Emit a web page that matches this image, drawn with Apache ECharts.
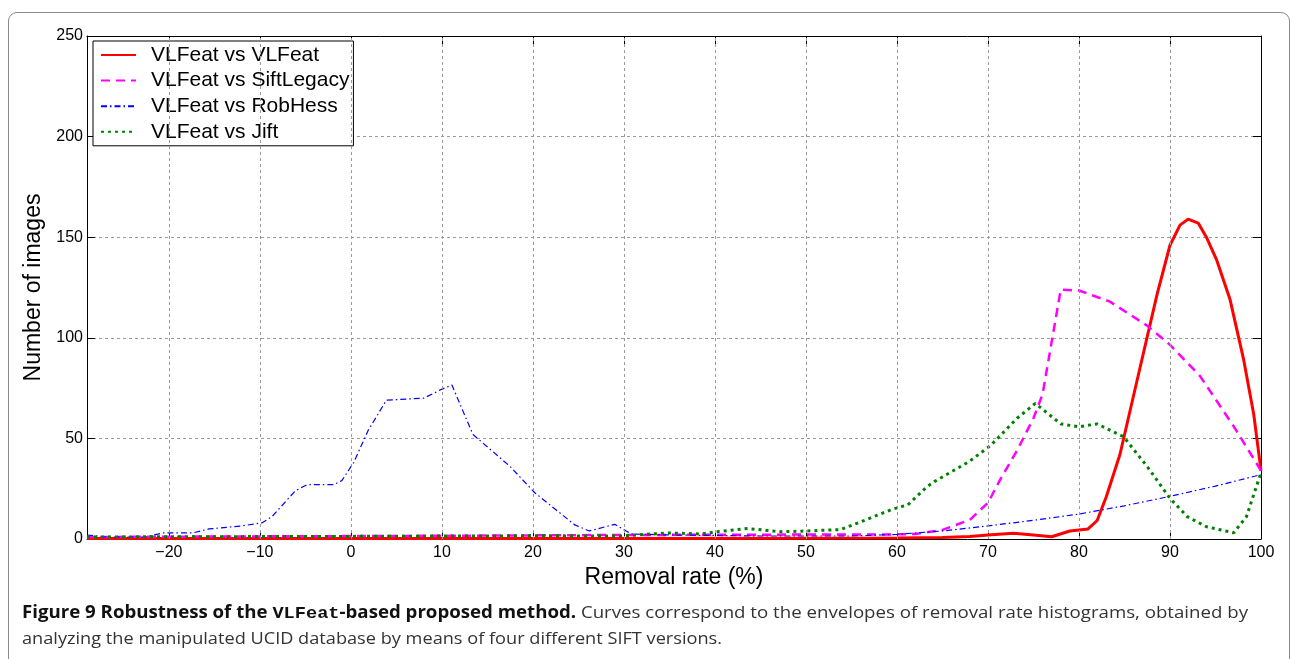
<!DOCTYPE html>
<html>
<head>
<meta charset="utf-8">
<script src="https://cdn.jsdelivr.net/npm/echarts@6/dist/echarts.min.js"></script>
<style>
html,body{margin:0;padding:0;background:#fff;}
#wrap{position:relative;width:1292px;height:659px;overflow:hidden;}
#frame{position:absolute;left:8px;top:12px;width:1282px;height:700px;border:1.5px solid #8a8a8a;border-radius:9px;box-sizing:border-box;}
#chart{position:absolute;left:0;top:0;width:1292px;height:659px;}
.cap{position:absolute;left:22px;white-space:nowrap;font-family:"Open Sans","Noto Sans",sans-serif;font-size:17px;color:#333;transform-origin:0 50%;}
.cap b{color:#111;font-weight:700;}
.cap code{font-family:"Liberation Mono","DejaVu Sans Mono",monospace;font-weight:700;color:#111;}
</style>
</head>
<body>
<div id="wrap">
<div id="frame"></div>
<div id="chart"></div>
<div class="cap" id="cap1" data-w="1226" style="top:600px;"><b>Figure 9 Robustness of the <code>VLFeat</code>-based proposed method.</b> Curves correspond to the envelopes of removal rate histograms, obtained by</div>
<div class="cap" id="cap2" data-w="700" style="top:626px;">analyzing the manipulated UCID database by means of four different SIFT versions.</div>
</div>
<script>
// ---- data ----
const seriesNames = ["VLFeat vs VLFeat", "VLFeat vs SiftLegacy", "VLFeat vs RobHess", "VLFeat vs Jift"];
const xTickValues = [-20, -10, 0, 10, 20, 30, 40, 50, 60, 70, 80, 90, 100];
const yTickValues = [0, 50, 100, 150, 200, 250];

const vlfeatX = [-29, 0, 30, 50, 60, 65, 68, 70, 72.8, 75, 77, 79, 81, 82, 83, 84.5, 86.7, 88.6, 90, 91.1, 92, 93.1, 94, 95.1, 96.6, 98.1, 99.2, 100];
const vlfeatY = [0.3, 0.3, 0.3, 0.4, 0.5, 0.8, 1.2, 2, 2.9, 2, 1.1, 4, 5, 9.2, 21, 42, 85, 122, 146, 156, 159, 157, 150, 139, 119, 89, 62, 34];

const siftLegacyX = [-29, -10, 10, 30, 50, 60, 62, 65, 68, 70, 71.4, 73.2, 75, 76, 77, 78, 80, 83.4, 87.5, 90, 93.3, 97, 100];
const siftLegacyY = [1, 1.3, 1.6, 2, 2.2, 2.3, 2.5, 4.5, 9.5, 18, 30, 44, 60, 72, 98, 124, 123.5, 118, 106, 96.5, 81, 56, 34];

const robHessX = [-29, -27, -22.6, -20.7, -17.4, -15.6, -12, -9.8, -8.7, -6.1, -4.8, -1.9, -1, 0.3, 1.9, 3.9, 8, 10, 11.1, 13.4, 17.5, 20.2, 24.6, 26.2, 29, 30.8, 35, 45, 55, 60, 65, 70, 75, 80, 85, 90, 95, 100];
const robHessY = [2, 1, 1, 3, 3, 5, 6.5, 8, 11, 24, 27, 27, 29, 38, 54, 69, 70, 74.5, 76.5, 52, 36, 23, 7, 4, 7.3, 2.5, 2, 1.5, 1.5, 2.3, 4, 6.5, 9.3, 12.4, 16.5, 21.2, 26.3, 32];

const jiftX = [-29, 0, 20, 27.4, 30, 32.1, 35, 38.5, 40.1, 43.6, 47.3, 50.1, 53.8, 56, 59.5, 61.2, 63.3, 64.1, 67.9, 70.3, 73.2, 75.2, 78, 80, 82, 84.9, 87.5, 90, 91.9, 94, 97, 98.4, 100];
const jiftY = [1, 1.3, 1.6, 1.5, 1.5, 2.3, 3, 2.5, 3.6, 5.2, 3.6, 4, 4.7, 8.5, 14.8, 17, 26, 28.5, 38.4, 46.5, 60, 67.4, 57.2, 55.8, 57.2, 50.8, 36, 20.2, 11.1, 6.1, 3.1, 11.1, 33];

const X_MIN = -29, X_MAX = 100, Y_MIN = 0, Y_MAX = 250;

function pairs(xs, ys) { return xs.map((x, i) => [x, ys[i]]); }
const minus = v => String(v).replace('-', '\u2212');

const chart = echarts.init(document.getElementById('chart'), null, {renderer: 'canvas'});
const FONT = '"Liberation Sans", Arial, Helvetica, sans-serif';
const gridDash = {color: '#9a9a9a', type: [3, 3], width: 1};

function mkX(pos, show) {
  return {
    type: 'value', position: pos, min: X_MIN, max: X_MAX,
    axisLine: {show: true, onZero: false, lineStyle: {color: '#000', width: 1}},
    axisTick: {show: true, inside: true, length: 8, customValues: xTickValues, lineStyle: {color: '#000'}},
    axisLabel: {show: show, customValues: xTickValues, formatter: minus, fontFamily: FONT, fontSize: 16, color: '#000', margin: 6},
    splitLine: {show: false},
    name: show ? 'Removal rate (%)' : '', nameLocation: 'middle', nameGap: 24,
    nameTextStyle: {fontFamily: FONT, fontSize: 23, color: '#000'}
  };
}
function mkY(pos, show) {
  return {
    type: 'value', position: pos, min: Y_MIN, max: Y_MAX, interval: 50,
    axisLine: {show: true, onZero: false, lineStyle: {color: '#000', width: 1}},
    axisTick: {show: true, inside: true, length: 8, lineStyle: {color: '#000'}},
    axisLabel: {show: show, fontFamily: FONT, fontSize: 16, color: '#000', margin: 4},
    splitLine: {show: show, lineStyle: gridDash},
    name: show ? 'Number of images' : '', nameLocation: 'middle', nameGap: 34,
    nameTextStyle: {fontFamily: FONT, fontSize: 23, color: '#000'}
  };
}

const vGridSeries = {
  type: 'line', name: '_vgrid', data: [], silent: true, legendHoverLink: false,
  markLine: {
    silent: true, symbol: 'none', label: {show: false},
    lineStyle: gridDash, animation: false,
    data: xTickValues.filter(v => v > X_MIN && v < X_MAX).map(v => ({xAxis: v}))
  }
};

const styles = [
  {color: '#ff0000', width: 3, type: 'solid'},
  {color: '#ff00ff', width: 2.5, type: [9, 6]},
  {color: '#0000ff', width: 1.2, type: [6, 3, 1.5, 3]},
  {color: '#008000', width: 3, type: [3, 4]}
];
const datas = [pairs(vlfeatX, vlfeatY), pairs(siftLegacyX, siftLegacyY), pairs(robHessX, robHessY), pairs(jiftX, jiftY)];

const series = [vGridSeries].concat(seriesNames.map((n, i) => ({
  type: 'line', name: n, data: datas[i], showSymbol: false, symbol: 'none', legendIcon: 'none',
  smooth: false, animation: false, clip: true,
  lineStyle: {color: styles[i].color, width: styles[i].width, type: styles[i].type, cap: 'butt'},
  itemStyle: {color: styles[i].color}
})));

chart.setOption({
  animation: false,
  backgroundColor: 'transparent',
  grid: {left: 87, top: 36, right: 31, bottom: 120, containLabel: false},
  xAxis: [mkX('bottom', true), mkX('top', false)],
  yAxis: [mkY('left', true), mkY('right', false)],
  legend: {
    data: seriesNames, orient: 'vertical', left: 93, top: 41,
    backgroundColor: '#fff', borderColor: '#000', borderWidth: 1, borderRadius: 0,
    padding: [2, 4, 2, 7], itemGap: 1.6, itemWidth: 35, itemHeight: 14,
    itemStyle: {opacity: 0},
    textStyle: {fontFamily: FONT, fontSize: 21, color: '#000', lineHeight: 24, padding: [0, 0, 0, 10]},
    selectedMode: false
  },
  series: series
});

document.querySelectorAll('.cap').forEach(el => {
  const w = el.getBoundingClientRect().width;
  const target = +el.dataset.w;
  el.style.transform = 'scaleX(' + (target / w) + ')';
});
</script>
</body>
</html>
